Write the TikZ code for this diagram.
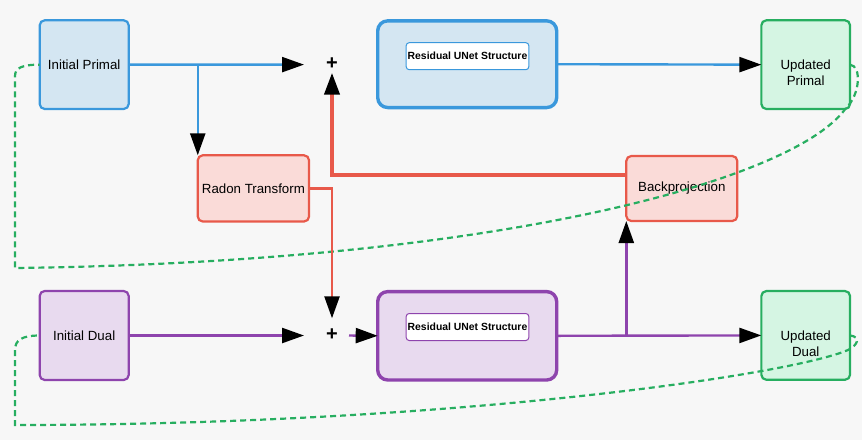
\documentclass[tikz,border=0pt]{standalone}
\usepackage{fontspec}
\setmainfont{Liberation Sans}
\usetikzlibrary{arrows.meta,calc}
\definecolor{bgcol}{HTML}{F7F7F7}
\definecolor{blueD}{HTML}{3A98DC}
\definecolor{blueF}{HTML}{D4E6F2}
\definecolor{redD}{HTML}{E8594A}
\definecolor{redF}{HTML}{FADBD8}
\definecolor{greenD}{HTML}{27AE60}
\definecolor{greenF}{HTML}{D5F5E3}
\definecolor{purD}{HTML}{8E44AD}
\definecolor{purF}{HTML}{E8DAEF}
\tikzset{
  box/.style={rounded corners=5pt, line width=2.2pt, inner sep=0pt, outer sep=0pt,
    align=center, text=black, font=\fontsize{13.3}{15.7}\selectfont},
  lowtext/.style={label={[align=center, text=black, font=\fontsize{13.3}{15.7}\selectfont, yshift=-8pt]center:#1}},
  bigbox/.style={rounded corners=10pt, line width=3.4pt, inner sep=0pt, outer sep=0pt},
  innerbox/.style={rounded corners=3pt, line width=1pt, fill=white, inner sep=0pt,
    outer sep=0pt, minimum width=122.6pt, minimum height=27pt, text=black,
    font=\bfseries\fontsize{10.4}{12}\selectfont},
  primal/.style={draw=blueD, fill=blueF},
  radon/.style={draw=redD, fill=redF},
  updated/.style={draw=greenD, fill=greenF},
  dual/.style={draw=purD, fill=purF},
  plusnode/.style={inner sep=0pt, outer sep=0pt, text=black, font=\bfseries\fontsize{20}{20}\selectfont},
  arr/.style={-{Triangle[length=22pt,width=15pt,color=black,fill=black]}},
  blueline/.style={draw=blueD, line width=2.4pt},
  purline/.style={draw=purD, line width=2.4pt},
  redline/.style={draw=redD, line width=2.4pt},
  redthick/.style={draw=redD, line width=4pt},
  fb/.style={draw=greenD, line width=2.2pt, dash pattern=on 6pt off 4pt},
}
\begin{document}
\begin{tikzpicture}[x=1pt,y=-1pt]
\useasboundingbox (0,0) rectangle (862,440);
\fill[bgcol] (0,0) rectangle (862,440);

% nodes
\node[box, primal, minimum width=89pt, minimum height=88.7pt] (ip) at (84.2,64.65) {Initial Primal};
\node[box, dual, minimum width=89pt, minimum height=89pt] (id) at (84.2,335.5) {Initial Dual};
\node[box, radon, minimum width=111.3pt, minimum height=66.2pt] (rt) at (253.4,188.4) {Radon Transform};
\node[box, radon, minimum width=111pt, minimum height=65pt] (bp) at (681.8,188.5) {Backprojection};
\node[box, updated, minimum width=88.7pt, minimum height=88.7pt, lowtext={Updated\\Primal}] (up) at (805.7,64.65) {};
\node[box, updated, minimum width=88.7pt, minimum height=88.7pt, lowtext={Updated\\Dual}] (ud) at (805.7,335.4) {};
\node[bigbox, primal, minimum width=179pt, minimum height=86.7pt] (ut) at (467.2,64.2) {};
\node[bigbox, dual, minimum width=179pt, minimum height=88.4pt] (ub) at (467.2,335.8) {};
\node[innerbox, draw=blueD] (uti) at (467.5,56.2) {Residual UNet Structure};
\node[innerbox, draw=purD] (ubi) at (467.5,327) {Residual UNet Structure};
\node[plusnode] (p1) at (332,63.3) {+};
\node[plusnode] (p2) at (332,334.6) {+};

% feedback dashed curves
\draw[fb] (up.east) .. controls (862,66) and (860,95) .. (846,108)
  .. controls (795,180) and (500,262) .. (15,268) -- (15,76)
  .. controls (15,68) and (22,64.65) .. (ip.west);
\draw[fb] (ud.east) .. controls (861,337) and (858,345) .. (848,350)
  .. controls (790,375) and (450,425) .. (15,425) -- (15,350)
  .. controls (15,340) and (22,335.5) .. (id.west);

% primal connectors
\draw[blueline, arr] (ip.east) -- ($(p1.center)+(-28,1.3)$);
\draw[blueline, arr] (ip.east -| rt.north west) -- (rt.north west);
\draw[blueline, arr] (ut.east) -- (up.west);
\draw[redthick, arr] ($(bp.west)+(0,-13.5)$) -| ($(p1.center)+(0,9.4)$);

% dual connectors
\draw[redline, arr] (rt.east) -| ($(p2.center)+(0,-16.3)$);
\draw[purline, arr] (id.east) -- ($(p2.center)+(-28,0.9)$);
\draw[purline, arr] ($(p2.center)+(17,0.9)$) -- (ub.west);
\draw[purline, arr] (ub.east) -- (ud.west);
\draw[purline, arr] (ub.east -| bp.south west) -- (bp.south west);
\end{tikzpicture}
\end{document}
